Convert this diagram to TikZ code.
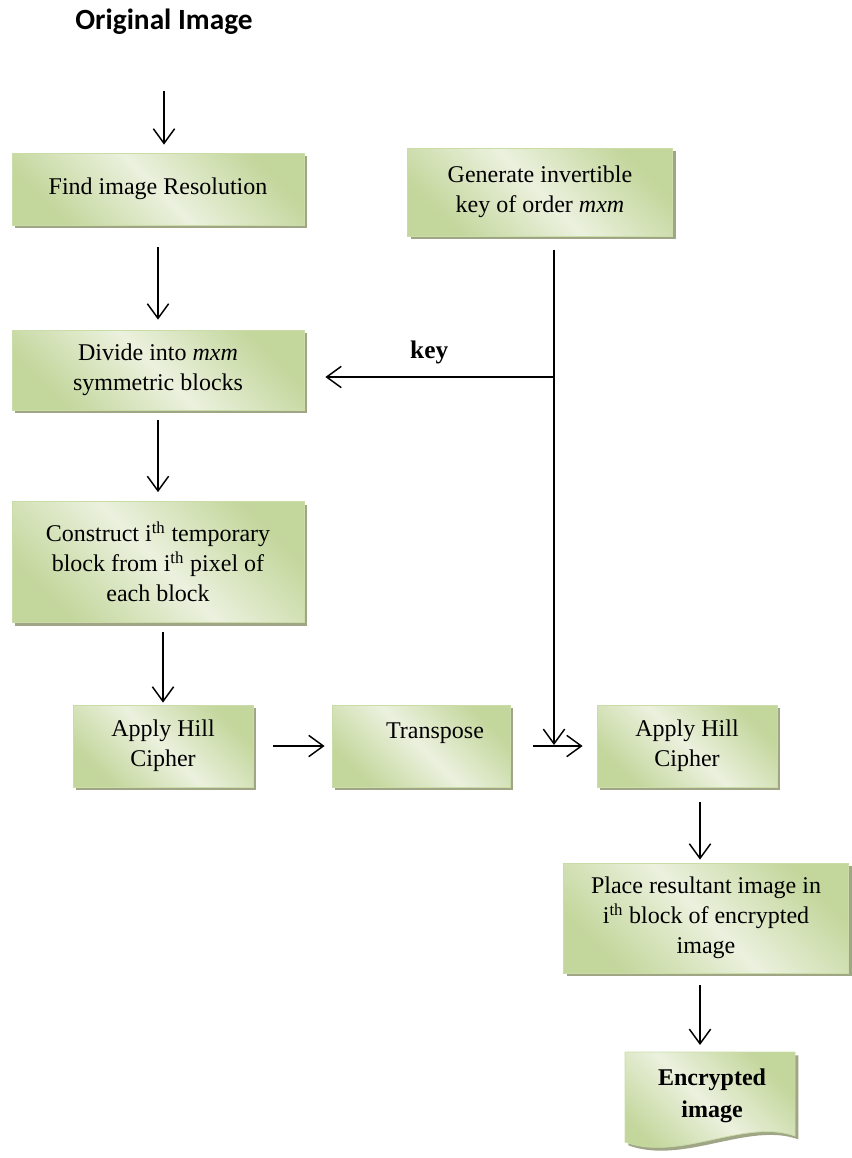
\documentclass[tikz,border=0pt]{standalone}
\usepackage{fontspec}
\setmainfont{Liberation Serif}
\newfontfamily\titlefont{Carlito}
\usetikzlibrary{arrows.meta,shadows}

\definecolor{boxdark}{HTML}{C3D69B}
\definecolor{boxlight}{HTML}{EBF1DE}
\definecolor{boxline}{HTML}{CADCA8}
\definecolor{boxshadow}{HTML}{9FA585}

\tikzset{
    greenfill/.style={draw=boxline, line width=0.6pt,
        top color=boxdark, bottom color=boxdark, middle color=boxlight,
        shading angle=-45,
        drop shadow={shadow xshift=2.5pt, shadow yshift=-2.5pt, fill=boxshadow, opacity=1}},
    procbox/.style={greenfill, align=center, inner sep=0pt,
        font=\fontsize{18}{22.5}\selectfont},
    flow/.style={-{Straight Barb[length=11pt,width=16pt]}, line width=1.1pt},
    keylbl/.style={font=\bfseries\fontsize{19}{22}\selectfont},
}

\begin{document}
\begin{tikzpicture}[x=0.75pt, y=-0.75pt]
    \useasboundingbox (0,0) rectangle (851,1158);

    \node[font=\titlefont\bfseries\fontsize{22}{26}\selectfont] (title) at (164,22) {Original Image};

    \node[procbox, minimum width=219pt, minimum height=54pt] (find) at (158,189) {Find image Resolution};
    \node[procbox, minimum width=198.75pt, minimum height=66pt] (gen) at (540,192) {Generate invertible\\key of order \textit{mxm}};
    \node[procbox, minimum width=219pt, minimum height=60pt] (divide) at (158,370) {Divide into \textit{mxm}\\symmetric blocks};
    \node[procbox, minimum width=219pt, minimum height=90.75pt] (construct) at (158,562) {Construct i\textsuperscript{th} temporary\\block from i\textsuperscript{th} pixel of\\each block};
    \node[procbox, minimum width=135pt, minimum height=61.5pt] (hill1) at (163,746) {Apply Hill\\Cipher};
    \node[procbox, minimum width=133.5pt, minimum height=61.5pt] (trans) at (421,746) {\hspace*{21pt}Transpose\\\mbox{}};
    \node[procbox, minimum width=135pt, minimum height=61.5pt] (hill2) at (687,746) {Apply Hill\\Cipher};
    \node[procbox, minimum width=213.75pt, minimum height=82.5pt] (place) at (706,918) {Place resultant image in\\i\textsuperscript{th} block of encrypted\\image};

    \coordinate (encnw) at (625,1052);
    \path[greenfill] (encnw) -- (795,1052) -- (795,1136)
        .. controls (745,1118) and (680,1162) .. (625,1142) -- cycle;
    \node[align=center, font=\bfseries\fontsize{18}{24}\selectfont] (enc) at (712,1096) {Encrypted\\image};

    \coordinate (keyjoin) at (554,377);
    \coordinate (keyend) at (554,745);
    \coordinate (col) at (700,0);

    \draw[flow, shorten <=39pt, shorten >=6pt] (title.south) -- (title.south |- find.north);
    \foreach \a/\b/\sa/\sb in {find/divide/16.5pt/7.5pt, divide/construct/7.5pt/6.75pt} {
        \draw[flow, shorten <=\sa, shorten >=\sb] (\a.south) -- (\b.north);
    }
    \draw[flow, shorten <=6.75pt, shorten >=1.5pt] (construct.south -| hill1.north) -- (hill1.north);

    \draw[flow, shorten <=15pt, shorten >=5.25pt] (hill1.east) -- (trans.west);
    \draw[flow, shorten <=17pt, shorten >=10.5pt] (trans.east) -- (hill2.west);

    \draw[flow, shorten <=10.5pt] (gen.south -| keyjoin) -- (keyend);
    \draw[flow, shorten >=15.75pt] (keyjoin) -- (divide.east |- keyjoin)
        node[keylbl, midway, yshift=18.75pt] (keytext) {key};

    \draw[flow, shorten <=11.25pt, shorten >=2.25pt] (hill2.south -| col) -- (place.north -| col);
    \draw[flow, shorten <=9pt, shorten >=5.25pt] (place.south -| col) -- (col |- encnw);
\end{tikzpicture}
\end{document}
